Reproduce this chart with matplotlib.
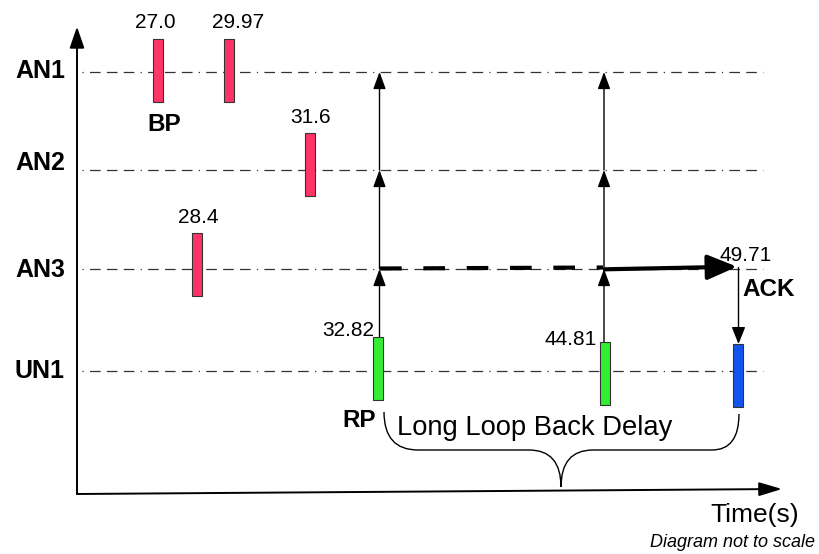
import matplotlib
matplotlib.use("Agg")
import matplotlib.pyplot as plt
from matplotlib.patches import FancyArrowPatch, PathPatch
from matplotlib.path import Path

plt.rcParams['font.family'] = ['Liberation Sans', 'DejaVu Sans']

# nodes and events (times in seconds, diagram not to scale)
nodes = ['AN1', 'AN2', 'AN3', 'UN1']
event_time = [27.0, 29.97, 31.6, 28.4, 32.82, 44.81, 49.71]
event_node = ['AN1', 'AN1', 'AN2', 'AN3', 'UN1', 'UN1', 'UN1']
event_kind = ['BP', 'BP', 'BP', 'BP', 'RP', 'RP', 'ACK']
kind_color = {'BP': '#ff3366', 'RP': '#33ee33', 'ACK': '#1155ee'}

# layout (pixel space of the drawing)
lane_y = {'AN1': 72, 'AN2': 170, 'AN3': 269, 'UN1': 371}
label_y = {'AN1': 78.5, 'AN2': 170, 'AN3': 277, 'UN1': 378}
ev_x = [158, 229, 310, 197, 378, 604.5, 738]
ev_top = [39, 39, 133, 233, 337, 342, 344]
bar_h = 63
lab_x = [155, 238.5, 311, 198.5, 374, 596.7, 745.5]
lab_y = [28.3, 28.3, 122.7, 222.7, 336, 345, 260.7]
lab_ha = ['center', 'center', 'center', 'center', 'right', 'right', 'center']

fig = plt.figure(figsize=(8.19, 5.54), dpi=100)
ax = fig.add_axes([0, 0, 1, 1])
ax.set_xlim(0, 819)
ax.set_ylim(554, 0)
ax.axis('off')

# lanes
dash = (0, (1, 5, 8.5, 5, 8.5, 5, 8.5, 5))
for n in nodes:
    ax.plot([82, 763], [lane_y[n], lane_y[n]], color='#333333', lw=0.9,
            linestyle=dash, zorder=1)
    ax.text(15, label_y[n], n, fontsize=18, fontweight='bold', ha='left',
            va='baseline')

# bars + values
cols = [kind_color[k] for k in event_kind]
ax.bar(ev_x, bar_h, width=10, bottom=ev_top, color=cols, edgecolor='#333333',
       linewidth=0.8, zorder=3)
for i, t in enumerate(event_time):
    ax.text(lab_x[i], lab_y[i], f'{t}', fontsize=15, ha=lab_ha[i],
            va='baseline', zorder=4)

ax.text(164, 131, 'BP', fontsize=17.5, fontweight='bold', ha='center', va='baseline')
ax.text(342, 426.7, 'RP', fontsize=17.5, fontweight='bold', ha='left', va='baseline')
ax.text(742, 295.7, 'ACK', fontsize=17.5, fontweight='bold', ha='left', va='baseline')


def arrow(p0, p1, lw=1.0, hl=0.6, hw=0.2, ms=14, z=2):
    a = FancyArrowPatch(p0, p1, arrowstyle=f'-|>,head_length={hl},head_width={hw}',
                        mutation_scale=ms, lw=lw, color='k',
                        shrinkA=0, shrinkB=0, zorder=z)
    ax.add_patch(a)


# forwarding arrows from RP bars up through the anchor nodes
for i, x in [(4, 379.5), (5, 604)]:
    arrow((x, ev_top[i]), (x, lane_y['AN3']), hl=0.65, hw=0.24, ms=16)
    arrow((x, lane_y['AN3']), (x, lane_y['AN2']), hl=0.65, hw=0.24, ms=16)
    arrow((x, lane_y['AN2']), (x, lane_y['AN1']), hl=0.65, hw=0.24, ms=16)

# AN3 path to ACK
ax.plot([380, 603], [268.5, 267.5], color='k', lw=3, linestyle=(0, (5.2, 5.2)),
        zorder=2)
arrow((605, 269.3), (737, 266.7), lw=3, hl=0.9, hw=0.38, ms=20)
arrow((738.5, 267.5), (738.5, ev_top[6]), hl=0.65, hw=0.26, ms=16)

# axes
arrow((77, 494), (77, 26.7), lw=1.4, hl=1.3, hw=0.45, ms=10)
arrow((77, 494), (782, 489), lw=1.4, hl=1.4, hw=0.42, ms=10)
ax.text(799, 521.7, 'Time(s)', fontsize=19, ha='right', va='baseline')
ax.text(815, 546.7, 'Diagram not to scale', fontsize=13, style='italic',
        ha='right', va='baseline')

# brace
verts = [(384, 412), (384, 450), (418, 450), (529, 450), (561, 450), (561, 487),
         (561, 450), (593, 450), (712, 450), (739, 450), (739, 414)]
codes = [Path.MOVETO, Path.CURVE3, Path.CURVE3, Path.LINETO, Path.CURVE3,
         Path.CURVE3, Path.CURVE3, Path.CURVE3, Path.LINETO, Path.CURVE3,
         Path.CURVE3]
ax.add_patch(PathPatch(Path(verts, codes), fill=False, lw=1, color='k'))
ax.text(397, 435, 'Long Loop Back Delay', fontsize=19.7, ha='left', va='baseline')

fig.savefig('out.png', dpi=100)
